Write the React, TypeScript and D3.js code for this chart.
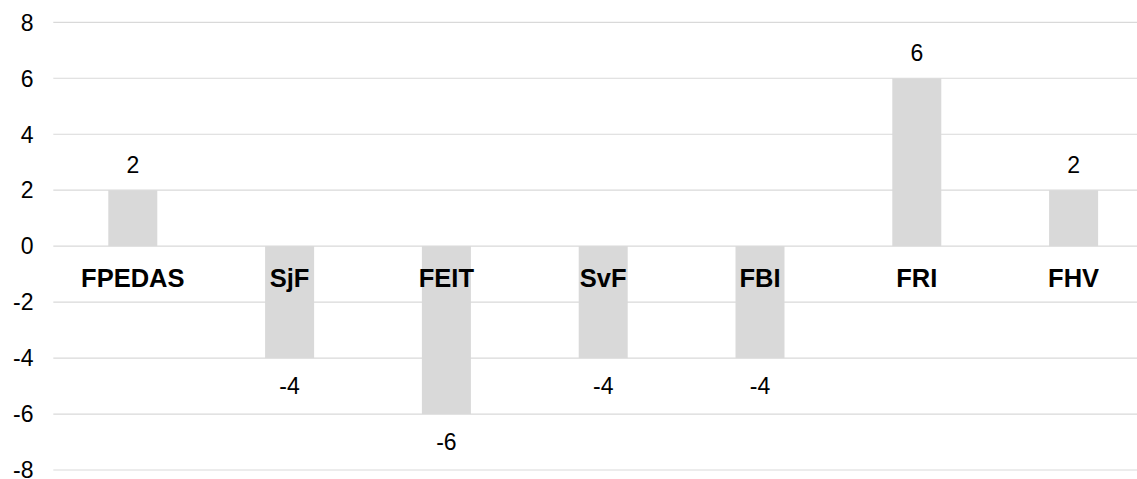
import React, { useEffect, useRef } from "react";
import * as d3 from "d3";

const categories = ["FPEDAS", "SjF", "FEIT", "SvF", "FBI", "FRI", "FHV"];
const values = [2, -4, -6, -4, -4, 6, 2];
const yTicks = [8, 6, 4, 2, 0, -2, -4, -6, -8];

const App = () => {
  const ref = useRef<SVGSVGElement>(null);

  useEffect(() => {
    const svg = d3.select(ref.current);
    svg.selectAll("*").remove();

    const width = 1137;
    const height = 479;
    const font = "Arial, 'Liberation Sans', sans-serif";

    const x = d3
      .scaleBand()
      .domain(categories)
      .range([54.4, 1152])
      .paddingInner(0.6875)
      .paddingOuter(0.34375);

    const y = d3.scaleLinear().domain([-8, 8]).range([470, 22.3]);

    svg.attr("width", width).attr("height", height);

    // gridlines
    svg
      .append("g")
      .selectAll("line")
      .data(yTicks)
      .enter()
      .append("line")
      .attr("x1", 53.3)
      .attr("x2", width)
      .attr("y1", d => y(d))
      .attr("y2", d => y(d))
      .attr("stroke", "#d9d9d9")
      .attr("stroke-width", 1.2);

    // tick labels
    svg
      .append("g")
      .selectAll("text")
      .data(yTicks)
      .enter()
      .append("text")
      .attr("x", 33.5)
      .attr("y", d => y(d) + 8.3)
      .attr("text-anchor", "end")
      .attr("font-family", font)
      .attr("font-size", "23px")
      .attr("fill", "#000")
      .text(d => d);

    const data = categories.map((c, i) => ({ c, v: values[i] }));

    // bars
    svg
      .append("g")
      .selectAll("rect")
      .data(data)
      .enter()
      .append("rect")
      .attr("x", d => x(d.c) as number)
      .attr("width", x.bandwidth())
      .attr("y", d => y(Math.max(0, d.v)))
      .attr("height", d => Math.abs(y(d.v) - y(0)))
      .attr("fill", "#d9d9d9");

    // value labels
    svg
      .append("g")
      .selectAll("text")
      .data(data)
      .enter()
      .append("text")
      .attr("x", d => (x(d.c) as number) + x.bandwidth() / 2)
      .attr("y", d => (d.v >= 0 ? y(d.v) - 17 : y(d.v) + 35.5))
      .attr("text-anchor", "middle")
      .attr("font-family", font)
      .attr("font-size", "23px")
      .attr("fill", "#000")
      .text(d => d.v);

    // category labels
    svg
      .append("g")
      .selectAll("text")
      .data(categories)
      .enter()
      .append("text")
      .attr("x", d => (x(d) as number) + x.bandwidth() / 2)
      .attr("y", y(0) + 40.5)
      .attr("text-anchor", "middle")
      .attr("font-family", font)
      .attr("font-size", "25.5px")
      .attr("font-weight", "bold")
      .attr("fill", "#000")
      .text(d => d);
  }, []);

  return (
    <svg
      ref={ref}
      style={{ position: "absolute", left: 0, top: 0, background: "#fff" }}
    ></svg>
  );
};

export default App;
